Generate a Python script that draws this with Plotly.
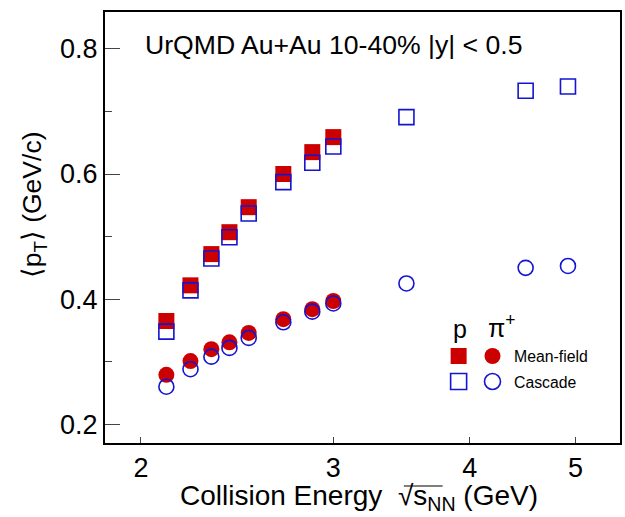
import plotly.graph_objects as go

# ---- data ----
energy_mf = [2.11, 2.22, 2.32, 2.41, 2.51, 2.70, 2.87, 3.00]
energy_cas = [2.11, 2.22, 2.32, 2.41, 2.51, 2.70, 2.87, 3.00, 3.50, 4.50, 4.92]
p_mf = [0.365, 0.422, 0.472, 0.507, 0.547, 0.600, 0.635, 0.659]
p_cas = [0.348, 0.414, 0.465, 0.499, 0.537, 0.587, 0.618, 0.644, 0.691, 0.733, 0.740]
pi_mf = [0.279, 0.301, 0.320, 0.331, 0.346, 0.368, 0.384, 0.397]
pi_cas = [0.260, 0.288, 0.308, 0.322, 0.338, 0.363, 0.380, 0.393, 0.425, 0.450, 0.453]
x_ticks = [2, 3, 4, 5]
y_ticks = [0.2, 0.4, 0.6, 0.8]

RED = "#CC0000"
BLUE = "#1414D2"
FONT = "Liberation Sans, Arial, sans-serif"

W, H = 625, 517
ML, MR, MT, MB = 105, 3, 12, 74
PW, PH = W - ML - MR, H - MT - MB


def px(x):
    return (x - ML) / PW


def py(y):
    return (H - MB - y) / PH


fig = go.Figure()
fig.add_trace(go.Scatter(x=energy_mf, y=p_mf, mode="markers",
                         marker=dict(symbol="square", size=16, color=RED, line=dict(width=0))))
fig.add_trace(go.Scatter(x=energy_mf, y=pi_mf, mode="markers",
                         marker=dict(symbol="circle", size=16, color=RED, line=dict(width=0))))
fig.add_trace(go.Scatter(x=energy_cas, y=p_cas, mode="markers",
                         marker=dict(symbol="square-open", size=15, color=BLUE, line=dict(width=1.6, color=BLUE))))
fig.add_trace(go.Scatter(x=energy_cas, y=pi_cas, mode="markers",
                         marker=dict(symbol="circle-open", size=15, color=BLUE, line=dict(width=1.6, color=BLUE))))

# legend glyphs (shapes in paper coords, pixel-sized)
def glyph(kind, cx, cy, filled):
    fig.add_shape(type="rect" if kind == "sq" else "circle",
                  xref="paper", yref="paper", xsizemode="pixel", ysizemode="pixel",
                  xanchor=px(cx), yanchor=py(cy), x0=-8, x1=8, y0=-8, y1=8,
                  fillcolor=RED if filled else "rgba(0,0,0,0)",
                  line=dict(width=0 if filled else 1.6, color=RED if filled else BLUE))

glyph("sq", 460, 356, True)
glyph("ci", 494, 356, True)
glyph("sq", 460, 381.5, False)
glyph("ci", 494, 381.5, False)

# radical overline in the x-axis title
fig.add_shape(type="line", xref="paper", yref="paper", x0=px(405), x1=px(444), y0=py(486), y1=py(486),
              line=dict(width=1.2, color="black"))

ann = [
    dict(text="UrQMD Au+Au 10-40% |y| < 0.5", x=px(143), y=py(45), xanchor="left", yanchor="middle",
         font=dict(size=26.6)),
    dict(text="p", x=px(461), y=py(329), xanchor="center", yanchor="middle", font=dict(size=25)),
    dict(text="π<sup>+</sup>", x=px(503), y=py(326), xanchor="center", yanchor="middle", font=dict(size=25)),
    dict(text="Mean-field", x=px(514), y=py(356), xanchor="left", yanchor="middle", font=dict(size=15.8)),
    dict(text="Cascade", x=px(514), y=py(382), xanchor="left", yanchor="middle", font=dict(size=15.8)),
    dict(text="Collision Energy  √s<sub>NN</sub> (GeV)",
         x=px(360), y=py(497), xanchor="center", yanchor="middle", font=dict(size=28)),
    dict(text="⟨p<sub>T</sub>⟩ (GeV/c)", x=px(34), y=py(205), xanchor="center", yanchor="middle",
         textangle=-90, font=dict(size=26.5)),
]
for a in ann:
    a.update(xref="paper", yref="paper", showarrow=False)
    a["font"].update(family=FONT, color="black")

fig.update_layout(
    width=W, height=H, margin=dict(l=ML, r=MR, t=MT, b=MB),
    paper_bgcolor="white", plot_bgcolor="white", showlegend=False,
    font=dict(family=FONT, size=26, color="black"),
    annotations=ann,
    xaxis=dict(type="log", range=[0.2681, 0.7396], tickvals=x_ticks, ticktext=[str(t) for t in x_ticks],
               ticks="inside", ticklen=6, tickwidth=1, tickcolor="#444", showgrid=False, zeroline=False,
               showline=True, linewidth=2, linecolor="black", mirror=True,
               tickfont=dict(size=27, family=FONT)),
    yaxis=dict(range=[0.170, 0.859], tickvals=y_ticks, ticktext=[f"{t:.1f}" for t in y_ticks],
               ticks="inside", ticklen=15, tickwidth=1, tickcolor="#444", showgrid=False, zeroline=False,
               showline=True, linewidth=2, linecolor="black", mirror=True,
               minor=dict(dtick=0.1, tick0=0.1, ticks="inside", ticklen=7, tickwidth=1, tickcolor="#444", showgrid=False),
               tickfont=dict(size=27, family=FONT)),
)

fig.write_html("out.html")
